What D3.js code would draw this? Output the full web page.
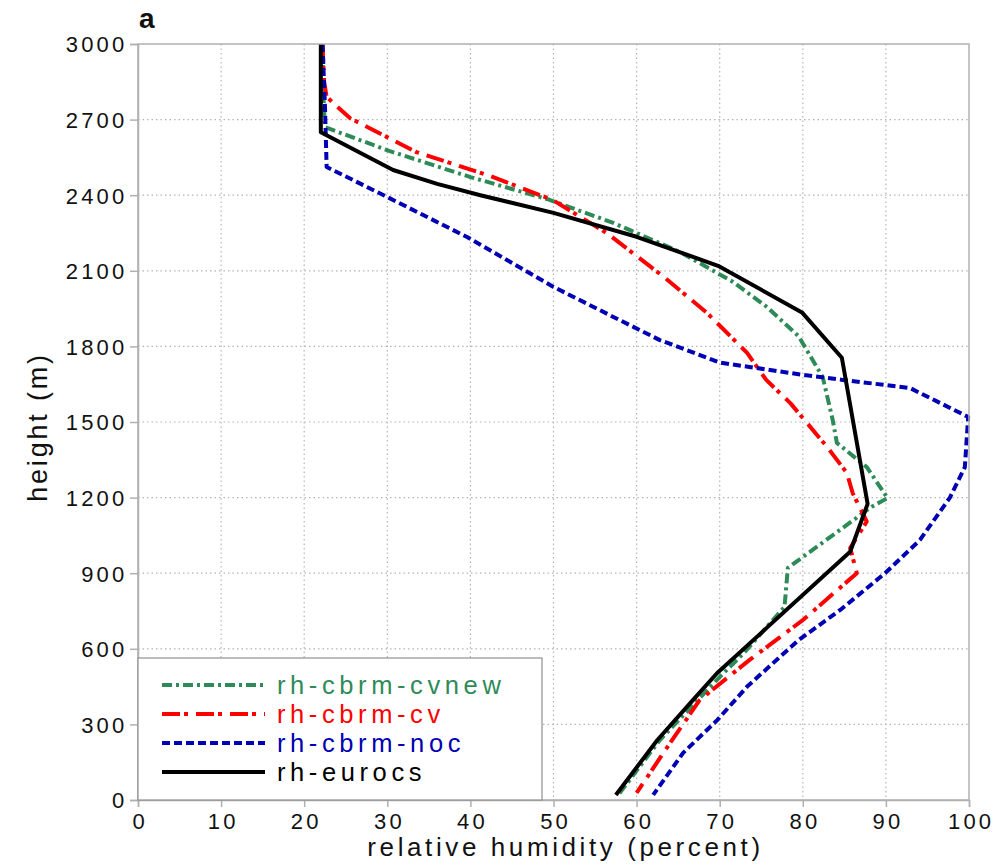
<!DOCTYPE html>
<html>
<head>
<meta charset="utf-8">
<script src="https://cdn.jsdelivr.net/npm/d3@7"></script>
<style>
  html, body { margin: 0; padding: 0; background: #fff; }
  svg text { font-family: "Liberation Sans", Arial, Helvetica, sans-serif; }
</style>
</head>
<body>
<svg id="chart" width="996" height="866"></svg>
<script>
// Relative humidity profiles (percent) against height (m)
const xTicks = [0, 10, 20, 30, 40, 50, 60, 70, 80, 90, 100];
const yTicks = [0, 300, 600, 900, 1200, 1500, 1800, 2100, 2400, 2700, 3000];

const cvnewRh =     [22.2, 22.3, 22.5, 30.3, 40.0, 49.2, 57.2, 65.2, 71.6, 75.7, 79.5, 82.4, 83.6, 84.1, 87.7, 90.2, 88.3, 78.2, 77.8, 72.9, 70.0, 62.8, 57.8];
const cvnewHeight = [3000, 2800, 2670, 2575, 2472, 2385, 2290, 2175, 2056, 1956, 1840, 1678, 1508, 1417, 1321, 1198, 1164,  921,  766,  583,  488,  238,   20];

const cvRh =     [22.2, 22.4, 22.7, 25.5, 33.5, 42.5, 49.9, 56.4, 63.5, 68.5, 73.3, 75.6, 78.5, 82.9, 85.3, 86.0, 87.7, 85.7, 86.5, 80.0, 73.6, 67.6, 63.7, 60.0];
const cvHeight = [3000, 2850, 2790, 2706, 2571, 2475, 2381, 2250, 2070, 1932, 1774, 1667, 1575, 1402, 1298, 1218, 1105, 1000,  900,  714,  556,  397,  210,   28];

const nocRh =     [22.2, 22.5, 22.7, 29.5, 39.6, 50.0, 57.2, 62.8, 66.0, 70.0, 80.0, 84.8, 92.9, 99.9, 99.5, 97.7, 94.1, 89.9, 84.5, 79.5, 73.3, 69.7, 65.6, 62.0];
const nocHeight = [3000, 2750, 2512, 2401, 2234, 2036, 1917, 1825, 1786, 1736, 1687, 1667, 1635, 1520, 1321, 1200, 1032,  900,  754,  635,  450,  317,  187,   20];

const eurocsRh =     [22.0, 22.0, 30.7, 36.0, 41.2, 50.0, 60.0, 69.8, 79.9, 84.7, 87.8, 85.7, 69.7, 66.8, 62.5, 57.5];
const eurocsHeight = [3000, 2650, 2500, 2445, 2400, 2330, 2235, 2120, 1935, 1755, 1175,  985,  504,  397,  238,   20];

const seriesNames = ["rh-cbrm-cvnew", "rh-cbrm-cv", "rh-cbrm-noc", "rh-eurocs"];
const seriesColors = ["#2e8b57", "#ff0000", "#0000b4", "#000000"];
const seriesDash = ["10,4,3,4", "18,4,4,8", "8,4", null];

const series = [
  { name: seriesNames[0], rh: cvnewRh, h: cvnewHeight },
  { name: seriesNames[1], rh: cvRh, h: cvHeight },
  { name: seriesNames[2], rh: nocRh, h: nocHeight },
  { name: seriesNames[3], rh: eurocsRh, h: eurocsHeight }
].map((s, i) => ({ ...s, color: seriesColors[i], dash: seriesDash[i],
  pts: s.rh.map((v, j) => [v, s.h[j]]) }));

const svg = d3.select("#chart");
const plotLeft = 138, plotRight = 969, plotTop = 44, plotBottom = 800;

const x = d3.scaleLinear().domain([0, 100]).range([plotLeft, plotRight]);
const y = d3.scaleLinear().domain([0, 3000]).range([plotBottom, plotTop]);

// dotted grid
const grid = svg.append("g");
grid.selectAll("line.gx").data(xTicks.slice(1, -1)).join("line")
  .attr("x1", d => x(d)).attr("x2", d => x(d))
  .attr("y1", plotTop).attr("y2", plotBottom)
  .attr("stroke", "#b4b4b4").attr("stroke-width", 1.2).attr("stroke-dasharray", "1.5,3");
grid.selectAll("line.gy").data(yTicks.slice(1, -1)).join("line")
  .attr("x1", plotLeft).attr("x2", plotRight)
  .attr("y1", d => y(d)).attr("y2", d => y(d))
  .attr("stroke", "#b4b4b4").attr("stroke-width", 1.2).attr("stroke-dasharray", "1.5,3");

// profiles
const line = d3.line().x(d => x(d[0])).y(d => y(d[1]));
svg.append("g").selectAll("path").data(series).join("path")
  .attr("d", d => line(d.pts))
  .attr("fill", "none")
  .attr("stroke", d => d.color)
  .attr("stroke-width", 4)
  .attr("stroke-linejoin", "round")
  .attr("stroke-dasharray", d => d.dash);

// frame
svg.append("rect")
  .attr("x", plotLeft).attr("y", plotTop)
  .attr("width", plotRight - plotLeft).attr("height", plotBottom - plotTop)
  .attr("fill", "none").attr("stroke", "#b0b0b0").attr("stroke-width", 1.5);

// axes
const xAxis = svg.append("g").attr("transform", `translate(0,${plotBottom})`)
  .call(d3.axisBottom(x).tickValues(xTicks).tickSize(7).tickPadding(6).tickFormat(d3.format("d")));
const yAxis = svg.append("g").attr("transform", `translate(${plotLeft},0)`)
  .call(d3.axisLeft(y).tickValues(yTicks).tickSize(8).tickPadding(6).tickFormat(d3.format("d")));
[xAxis, yAxis].forEach(g => {
  g.select(".domain").attr("stroke", "#b0b0b0").attr("stroke-width", 1.5);
  g.selectAll(".tick line").attr("stroke", "#b0b0b0").attr("stroke-width", 1.5);
  g.selectAll(".tick text")
    .attr("font-family", "Liberation Sans, Arial, sans-serif")
    .attr("font-size", 22).attr("fill", "#111")
    .style("letter-spacing", "3.2px");
});
xAxis.selectAll(".tick text").attr("dx", "1.6px");
yAxis.selectAll(".tick text").attr("dx", "3.5px").attr("dy", "0.36em");

// axis titles
svg.append("text")
  .attr("x", (plotLeft + plotRight) / 2 + 12).attr("y", 856)
  .attr("text-anchor", "middle").attr("font-size", 26).attr("fill", "#111")
  .style("letter-spacing", "3.6px")
  .text("relative humidity (percent)");
svg.append("text")
  .attr("transform", `translate(47,${(plotTop + plotBottom) / 2 + 5}) rotate(-90)`)
  .attr("text-anchor", "middle").attr("font-size", 27).attr("fill", "#111")
  .style("letter-spacing", "2.8px")
  .text("height (m)");

// panel letter
svg.append("text")
  .attr("x", 139).attr("y", 28)
  .attr("font-size", 28).attr("font-weight", "bold").attr("fill", "#111")
  .text("a");

// legend
const legend = svg.append("g");
legend.append("rect")
  .attr("x", plotLeft).attr("y", 658)
  .attr("width", 404).attr("height", plotBottom - 658)
  .attr("fill", "#fff").attr("stroke", "#909090").attr("stroke-width", 1.2);
const rows = legend.selectAll("g.row").data(series).join("g")
  .attr("transform", (d, i) => `translate(0,${685 + i * 29})`);
rows.append("line")
  .attr("x1", 162).attr("x2", 265).attr("y1", 0).attr("y2", 0)
  .attr("stroke", d => d.color).attr("stroke-width", 4)
  .attr("stroke-dasharray", d => d.dash);
rows.append("text")
  .attr("x", 277).attr("y", 9)
  .attr("font-size", 25.5).attr("fill", d => d.color)
  .style("letter-spacing", "4.6px")
  .text(d => d.name);
</script>
</body>
</html>
